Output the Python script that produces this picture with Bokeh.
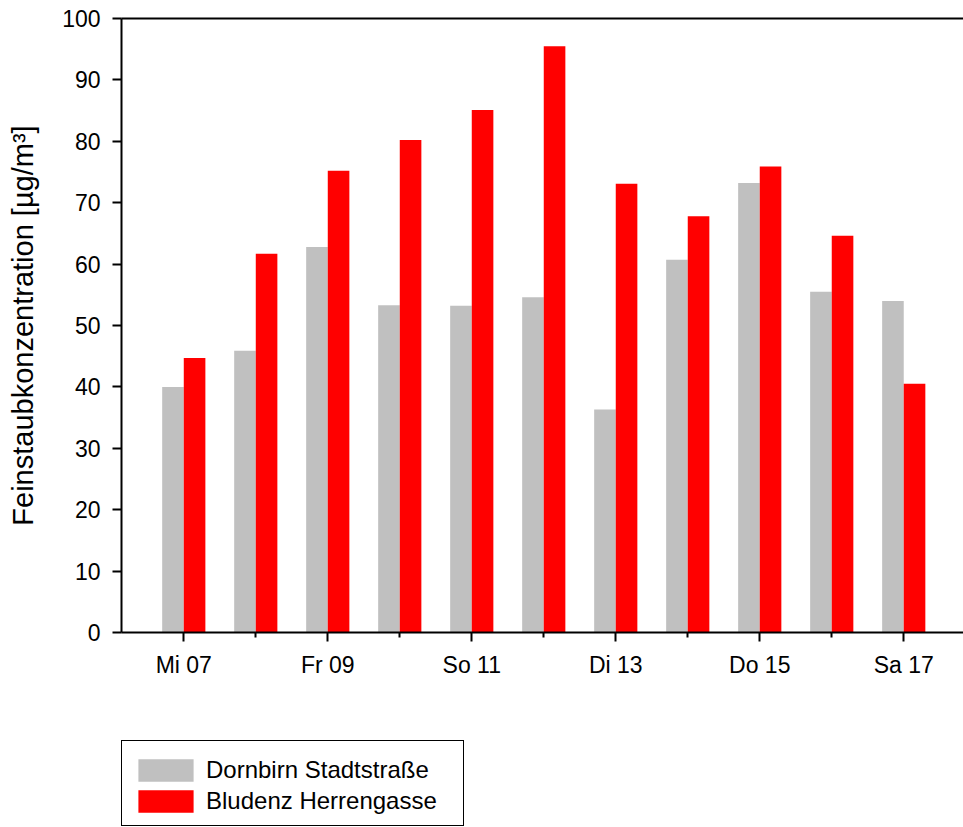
from bokeh.plotting import figure
from bokeh.models import Range1d, FixedTicker, LinearAxis, Legend
from bokeh.layouts import column
from bokeh.embed import file_html
from bokeh.resources import INLINE

days = ["Mi 07", "Do 08", "Fr 09", "Sa 10", "So 11", "Mo 12",
        "Di 13", "Mi 14", "Do 15", "Fr 16", "Sa 17"]
dornbirn = [40.0, 45.9, 62.8, 53.3, 53.2, 54.6, 36.3, 60.7, 73.2, 55.5, 54.0]
bludenz = [44.7, 61.7, 75.2, 80.2, 85.1, 95.5, 73.1, 67.8, 75.9, 64.6, 40.5]
series_names = ["Dornbirn Stadtstraße", "Bludenz Herrengasse"]
y_ticks = [0, 10, 20, 30, 40, 50, 60, 70, 80, 90, 100]
labelled = [0, 2, 4, 6, 8, 10]
unlabelled = [1, 3, 5, 7, 9]

FONT = "Liberation Sans"
GREY = "#C0C0C0"
RED = "#FF0000"

idx = list(range(len(days)))
x_grey = [i - 0.15 for i in idx]
x_red = [i + 0.15 for i in idx]

p = figure(width=963, height=700, output_backend="svg", toolbar_location=None,
           x_range=Range1d(-0.865, 10.83), y_range=Range1d(0, 100),
           min_border_left=121, min_border_top=18, min_border_right=0,
           min_border_bottom=68)
p.xgrid.visible = False
p.ygrid.visible = False
p.outline_line_color = None
p.background_fill_color = "white"
p.border_fill_color = "white"

p.vbar(x=x_grey, top=dornbirn, width=0.3, bottom=0, fill_color=GREY, line_color=None)
p.vbar(x=x_red, top=bludenz, width=0.3, bottom=0, fill_color=RED, line_color=None)

xa = p.xaxis[0]
xa.ticker = FixedTicker(ticks=labelled, minor_ticks=unlabelled)
xa.major_label_overrides = {i: days[i] for i in labelled}
xa.major_tick_out = 9
xa.major_tick_in = 0
xa.minor_tick_out = 5
xa.minor_tick_in = 0
xa.axis_line_width = 2
xa.major_tick_line_width = 2
xa.minor_tick_line_width = 2
xa.major_label_standoff = 10
xa.major_label_text_font = FONT
xa.major_label_text_font_size = "23px"
xa.major_label_text_color = "black"

ya = p.yaxis[0]
ya.ticker = FixedTicker(ticks=y_ticks)
ya.major_tick_out = 9
ya.major_tick_in = 0
ya.minor_tick_out = 0
ya.minor_tick_in = 0
ya.axis_line_width = 2
ya.major_tick_line_width = 2
ya.major_label_standoff = 12
ya.major_label_text_font = FONT
ya.major_label_text_font_size = "23px"
ya.major_label_text_color = "black"
ya.axis_label = "Feinstaubkonzentration [µg/m³]"
ya.axis_label_text_font = FONT
ya.axis_label_text_font_size = "29px"
ya.axis_label_text_font_style = "normal"
ya.axis_label_text_color = "black"
ya.axis_label_standoff = 20

top = LinearAxis(ticker=FixedTicker(ticks=[]), major_tick_out=0, major_tick_in=0,
                 minor_tick_out=0, minor_tick_in=0, major_label_standoff=0,
                 major_label_text_font_size="0px", axis_line_width=2)
p.add_layout(top, "above")

# legend panel below the chart
p2 = figure(width=963, height=127, output_backend="svg", toolbar_location=None,
            x_range=Range1d(-0.865, 10.83), y_range=Range1d(200, 300),
            x_axis_type=None, y_axis_type=None,
            min_border_left=121, min_border_top=40, min_border_right=0,
            min_border_bottom=0)
p2.xgrid.visible = False
p2.ygrid.visible = False
p2.outline_line_color = None
p2.background_fill_color = "white"
p2.border_fill_color = "white"
l1 = p2.vbar(x=x_grey, top=dornbirn, width=0.3, bottom=0, fill_color=GREY, line_color=None)
l2 = p2.vbar(x=x_red, top=bludenz, width=0.3, bottom=0, fill_color=RED, line_color=None)

legend = Legend(items=[(series_names[0], [l1]), (series_names[1], [l2])],
                location="top_left", margin=0, padding=9, spacing=1,
                title=" ", title_text_font_size="1px", title_standoff=4,
                glyph_width=69, glyph_height=28, label_height=30,
                label_standoff=6, label_width=248,
                label_text_font=FONT, label_text_font_size="24px",
                label_text_color="black",
                border_line_color="black", border_line_width=1.5,
                border_line_alpha=1.0,
                background_fill_color="white", background_fill_alpha=1.0)
p2.add_layout(legend, "center")

layout = column(p, p2, spacing=0)
open("out.html", "w").write(file_html(layout, INLINE))
